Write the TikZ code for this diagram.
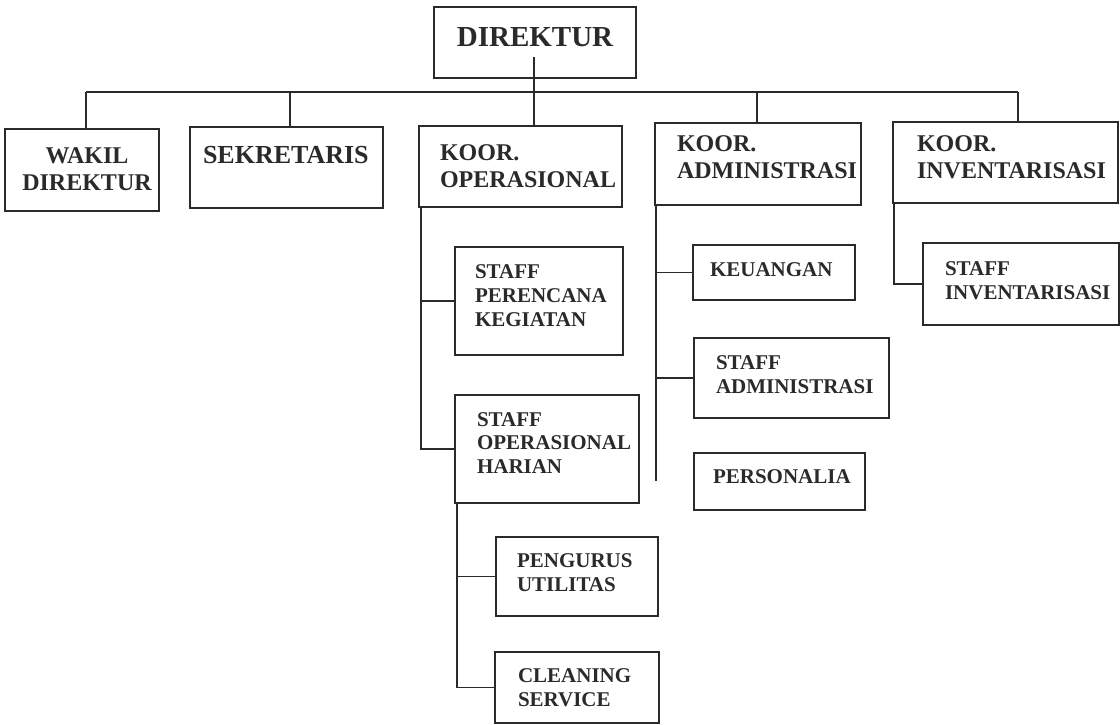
\documentclass[tikz,border=0pt]{standalone}
\usepackage{fontspec}
\setmainfont{Liberation Serif}
\definecolor{ink}{HTML}{2A2A2A}
\begin{document}
\begin{tikzpicture}[x=1pt,y=-1pt,
  box/.style={draw=ink, line width=1.5pt, anchor=north west, inner sep=0pt, outer sep=0pt},
  lbl/.style={text=ink, inner sep=0pt, outer sep=0pt, anchor=west, align=left},
  conn/.style={draw=ink, line width=1.5pt},
  bigf/.style={font=\fontsize{29}{32}\selectfont\bfseries},
  midf/.style={font=\fontsize{24}{27}\selectfont\bfseries},
  sekf/.style={font=\fontsize{26}{29}\selectfont\bfseries},
  smlf/.style={font=\fontsize{21}{23.8}\selectfont\bfseries}]
\useasboundingbox (0,0) rectangle (1120,724);

% boxes
\node[box, minimum width=202pt, minimum height=71pt] (dir)   at (434,7)   {};
\node[box, minimum width=154pt, minimum height=82pt] (wakil) at (5,129)   {};
\node[box, minimum width=193pt, minimum height=81pt] (sekr)  at (190,127) {};
\node[box, minimum width=203pt, minimum height=81pt] (ops)   at (419,126) {};
\node[box, minimum width=206pt, minimum height=82pt] (adm)   at (655,123) {};
\node[box, minimum width=225pt, minimum height=81pt] (inv)   at (893,122) {};
\node[box, minimum width=168pt, minimum height=108pt] (per)  at (455,247) {};
\node[box, minimum width=184pt, minimum height=108pt] (har)  at (455,395) {};
\node[box, minimum width=162pt, minimum height=79pt] (peng)  at (496,537) {};
\node[box, minimum width=164pt, minimum height=71pt] (clean) at (495,652) {};
\node[box, minimum width=162pt, minimum height=55pt] (keu)   at (693,245) {};
\node[box, minimum width=195pt, minimum height=80pt] (sadm)  at (694,338) {};
\node[box, minimum width=171pt, minimum height=57pt] (pers)  at (694,453) {};
\node[box, minimum width=196pt, minimum height=82pt] (sinv)  at (923,243) {};

% labels
\node[lbl, bigf, anchor=center] (dir-t) at (535,37) {DIREKTUR};
\node[lbl, midf, anchor=center, align=center] (wakil-t) at (87,169) {WAKIL\\DIREKTUR};
\node[lbl, sekf] (sekr-t) at (203,155) {SEKRETARIS};
\node[lbl, midf] (ops-t) at (440,166.5) {KOOR.\\OPERASIONAL};
\node[lbl, midf] (adm-t) at (677,157) {KOOR.\\ADMINISTRASI};
\node[lbl, midf] (inv-t) at (917,157) {KOOR.\\INVENTARISASI};
\node[lbl, smlf] (per-t) at (475,295.5) {STAFF\\PERENCANA\\KEGIATAN};
\node[lbl, smlf] (har-t) at (477,443) {STAFF\\OPERASIONAL\\HARIAN};
\node[lbl, smlf] (peng-t) at (517,573) {PENGURUS\\UTILITAS};
\node[lbl, smlf] (clean-t) at (518,688) {CLEANING\\SERVICE};
\node[lbl, smlf] (keu-t) at (710,270) {KEUANGAN};
\node[lbl, smlf] (sadm-t) at (716,375) {STAFF\\ADMINISTRASI};
\node[lbl, smlf] (pers-t) at (713,477) {PERSONALIA};
\node[lbl, smlf] (sinv-t) at (945,280.5) {STAFF\\INVENTARISASI};

% top-level connectors
\coordinate (dstem) at (534,57);
\coordinate (busL) at (86,92);
\coordinate (busS) at (290,92);
\coordinate (busA) at (757,92);
\coordinate (busR) at (1018,92);
\draw[conn] (dstem) -- (dstem |- ops.north);
\draw[conn] (busL) -- (busR);
\draw[conn] (busL) -- (busL |- wakil.north);
\draw[conn] (busS) -- (busS |- sekr.north);
\draw[conn] (busA) -- (busA |- adm.north);
\draw[conn] (busR) -- (busR |- inv.north);

% operasional subtree
\coordinate (opsv) at (421,207);
\draw[conn] (opsv) -- (opsv |- har.west) -- (har.west);
\draw[conn] (opsv |- per.west) -- (per.west);
\coordinate (harv) at (457,503);
\draw[conn] (harv) -- (harv |- clean.west) -- (clean.west);
\draw[conn] (harv |- peng.west) -- (peng.west);

% administrasi subtree
\coordinate (admv) at (656,205);
\coordinate (admend) at (656,481);
\draw[conn] (admv) -- (admend);
\draw[conn] (admv |- keu.west) -- (keu.west);
\draw[conn] (admv |- sadm.west) -- (sadm.west);

% inventarisasi subtree
\coordinate (invv) at (894,203);
\draw[conn] (invv) -- (invv |- sinv.west) -- (sinv.west);
\end{tikzpicture}
\end{document}
